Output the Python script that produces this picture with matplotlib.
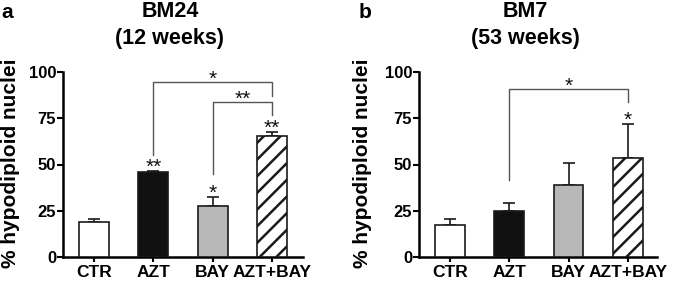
import matplotlib
matplotlib.use("Agg")
import matplotlib.pyplot as plt
import numpy as np

plt.rcParams["font.family"] = ["Liberation Sans", "DejaVu Sans"]
plt.rcParams["font.weight"] = "bold"
plt.rcParams["hatch.linewidth"] = 1.8

groups = ["CTR", "AZT", "BAY", "AZT+BAY"]
colors = ["white", "#111111", "#b8b8b8", "white"]
hatches = ["", "", "", "//"]

# panel a: BM24 (12 weeks)
mean_a = [19.1, 45.8, 27.8, 65.5]
err_a = [1.3, 0.5, 4.6, 1.9]
stars_a = ["", "**", "*", "**"]
# panel b: BM7 (53 weeks)
mean_b = [17.5, 24.7, 38.7, 53.5]
err_b = [3.3, 4.5, 12.0, 18.5]
stars_b = ["", "", "", "*"]

# brackets: (i, j, height, left drop to, right drop to, label)
brackets_a = [(1, 3, 94.4, 55.0, 87.0, "*"), (2, 3, 84.0, 45.0, 77.0, "**")]
brackets_b = [(1, 3, 90.6, 41.5, 84.0, "*")]

fig = plt.figure(figsize=(6.75, 2.82), dpi=100)
ax_a = fig.add_axes([63 / 675, 1 - 257 / 282, 240 / 675, 185 / 282])
ax_b = fig.add_axes([419 / 675, 1 - 257 / 282, 238 / 675, 185 / 282])


def star(ax, x, y, s):
    # y is where the glyph centre should sit; asterisks ride high on the baseline
    ax.text(x, y - 6.0, s, ha="center", va="baseline", fontsize=15,
            fontweight="normal", color="#111", clip_on=False)


def draw_panel(ax, means, errs, stars, brackets, xl):
    x = np.arange(len(groups))
    ax.bar(x, means, width=0.5, color=colors, edgecolor="#1a1a1a",
           linewidth=1.2, hatch=hatches, zorder=3)
    ax.errorbar(x, means, yerr=[np.zeros(len(errs)), errs], fmt="none",
                ecolor="#1a1a1a", elinewidth=1.2, capsize=4.5, capthick=1.2,
                zorder=2)
    for xi, m, e, s in zip(x, means, errs, stars):
        if s:
            star(ax, xi, m + e + 5.0, s)
    for i, j, h, di, dj, s in brackets:
        ax.plot([i, i, j, j], [di, h, h, dj], color="#555555", lw=1.0,
                clip_on=False, zorder=1)
        star(ax, (i + j) / 2, h + 4.5, s)

    ax.set_xlim(-0.52, xl)
    ax.set_ylim(0, 100)
    ax.set_yticks([0, 25, 50, 75, 100])
    ax.set_xticks(x)
    ax.set_xticklabels(groups, fontsize=12.5, fontweight="bold")
    ax.tick_params(axis="y", labelsize=12, width=1.5, length=4, pad=1)
    ax.tick_params(axis="x", width=1.5, length=3.6, pad=2.5)
    for lab in ax.get_yticklabels():
        lab.set_fontweight("bold")
    ax.spines["top"].set_visible(False)
    ax.spines["right"].set_visible(False)
    ax.spines["left"].set_linewidth(1.8)
    ax.spines["bottom"].set_linewidth(1.8)


draw_panel(ax_a, mean_a, err_a, stars_a, brackets_a, 3.52)
draw_panel(ax_b, mean_b, err_b, stars_b, brackets_b, 3.49)

fig.text(7 / 675, 1 - 12 / 282, "a", fontsize=15, fontweight="bold", ha="center", va="center")
fig.text(365 / 675, 1 - 12 / 282, "b", fontsize=15, fontweight="bold", ha="center", va="center")
fig.text(170 / 675, 1 - 25 / 282, "BM24\n(12 weeks)", fontsize=15.5, fontweight="bold",
         ha="center", va="center", linespacing=1.35)
fig.text(525 / 675, 1 - 25 / 282, "BM7\n(53 weeks)", fontsize=15.5, fontweight="bold",
         ha="center", va="center", linespacing=1.35)
for xp in (11, 363):
    fig.text(xp / 675, 1 - 163 / 282, "% hypodiploid nuclei", rotation=90,
             fontsize=15, fontweight="bold", ha="center", va="center")

fig.savefig("out.png", dpi=100)
